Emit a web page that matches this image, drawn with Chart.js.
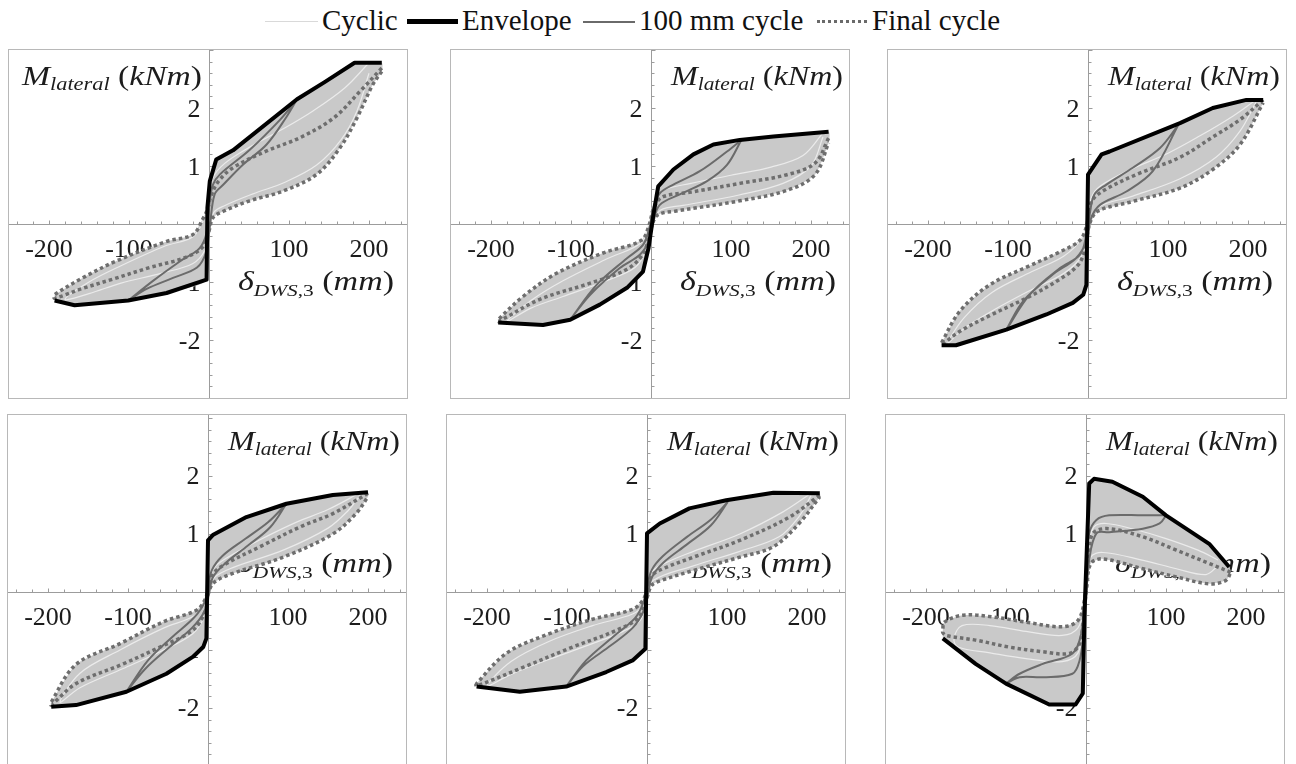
<!DOCTYPE html>
<html>
<head>
<meta charset="utf-8">
<script src="https://cdn.jsdelivr.net/npm/chart.js@4.4.1/dist/chart.umd.min.js"></script>
<style>
  body { margin: 0; width: 1296px; height: 764px; overflow: hidden; background: #fff; position: relative; font-family: "Liberation Serif", serif; }
  .panel { position: absolute; border: 1px solid #b8b8b8; }
  .panel canvas { display: block; }
  .lg { position: absolute; font-size: 29px; line-height: 29px; top: 6px; color: #111; white-space: nowrap; }
  .sw { position: absolute; }
</style>
</head>
<body>

<!-- legende commune -->
<div class="sw" style="left:265px;top:21px;width:53px;height:0;border-top:1.5px solid #d9d9d9"></div>
<div class="lg" style="left:322px">Cyclic</div>
<div class="sw" style="left:407px;top:19px;width:51px;height:5px;background:#000"></div>
<div class="lg" style="left:462px">Envelope</div>
<div class="sw" style="left:583px;top:21px;width:52px;height:0;border-top:2px solid #6a6a6a"></div>
<div class="lg" style="left:639px">100 mm cycle</div>
<div class="sw" style="left:817px;top:20px;width:50px;height:0;border-top:3px dotted #6a6a6a"></div>
<div class="lg" style="left:872px">Final cycle</div>

<div class="panel" style="left:8px;top:49px"><canvas id="c0" width="398" height="348"></canvas></div>
<div class="panel" style="left:450px;top:49px"><canvas id="c1" width="398" height="348"></canvas></div>
<div class="panel" style="left:887px;top:49px"><canvas id="c2" width="398" height="348"></canvas></div>
<div class="panel" style="left:7px;top:414px"><canvas id="c3" width="398" height="351"></canvas></div>
<div class="panel" style="left:446px;top:414px"><canvas id="c4" width="398" height="351"></canvas></div>
<div class="panel" style="left:885px;top:414px"><canvas id="c5" width="398" height="351"></canvas></div>

<script>
// graduations
const xTickLabels = [-200, -100, 100, 200];
const yTickLabels = [-2, -1, 1, 2];

// panneau 1 : [deplacement mm, moment kNm]
const env1 = [[-193,-1.32],[-168,-1.40],[-101,-1.32],[-53,-1.19],[-3,-0.96],[-2,0.28],[1,0.74],[9,1.11],[30,1.27],[110,2.15],[145,2.45],[182,2.78],[216,2.78]];
const up100_1 = [[110,2.15],[89,1.80],[51,1.28],[14,0.86],[5,0.68],[1,0.40],[-3,-0.15],[-12,-0.42],[-37,-0.65],[-70,-0.98],[-101,-1.32]];
const lo100_1 = [[-101,-1.32],[-78,-1.12],[-45,-0.93],[-15,-0.75],[-4,-0.50],[1,-0.05],[7,0.51],[18,0.68],[43,1.03],[72,1.37],[97,1.85],[110,2.15]];
const finUp1 = [[216,2.69],[189,2.29],[156,1.83],[114,1.49],[72,1.26],[30,0.97],[12,0.74],[3,0.50],[-2,0.25],[-8,0.08],[-20,-0.18],[-53,-0.30],[-116,-0.64],[-158,-0.93],[-193,-1.22]];
const finLo1 = [[-193,-1.28],[-160,-1.12],[-120,-0.95],[-74,-0.75],[-30,-0.58],[-8,-0.40],[0,-0.12],[5,0.11],[18,0.22],[51,0.40],[93,0.57],[135,0.86],[164,1.32],[185,1.83],[205,2.41],[216,2.63]];
const cyc1 = [[200,2.78],[170,2.35],[130,1.95],[90,1.62],[50,1.32],[20,1.05],[5,0.80],[0,0.40],[-6,0.10],[-20,-0.22],[-55,-0.38],[-110,-0.72],[-150,-1.0],[-180,-1.30],
              [-150,-1.20],[-110,-1.02],[-60,-0.85],[-20,-0.68],[-5,-0.45],[1,-0.10],[6,0.20],[20,0.32],[55,0.52],[95,0.72],[135,1.02],[165,1.45],[185,1.95],[200,2.60]];

// panneau 2
const env2 = [[-191,-1.70],[-135,-1.74],[-101,-1.65],[-64,-1.39],[-30,-1.10],[-10,-0.82],[-3,-0.41],[3,0.16],[9,0.65],[28,0.94],[53,1.20],[78,1.37],[111,1.45],[153,1.51],[222,1.59]];
const up100_2 = [[113,1.45],[95,1.25],[61,0.91],[28,0.68],[11,0.53],[3,0.28],[-2,-0.07],[-10,-0.36],[-30,-0.59],[-68,-1.05],[-101,-1.65]];
const lo100_2 = [[-101,-1.65],[-76,-1.22],[-39,-0.76],[-14,-0.53],[-3,-0.30],[3,0.05],[11,0.33],[36,0.51],[70,0.74],[95,1.02],[113,1.45]];
const finUp2 = [[222,1.48],[205,1.05],[170,0.85],[111,0.70],[50,0.55],[15,0.47],[4,0.30],[-2,0.0],[-12,-0.28],[-60,-0.50],[-118,-0.85],[-160,-1.25],[-191,-1.65]];
const finLo2 = [[-191,-1.68],[-139,-1.30],[-76,-1.02],[-30,-0.78],[-10,-0.52],[-2,-0.20],[3,0.05],[10,0.17],[30,0.22],[111,0.40],[170,0.58],[205,0.85],[222,1.40]];
const cyc2 = [[215,1.57],[190,1.18],[150,0.98],[100,0.84],[50,0.70],[15,0.58],[4,0.38],[-2,0.05],[-12,-0.32],[-55,-0.60],[-110,-0.98],[-150,-1.32],[-180,-1.68],
              [-150,-1.45],[-110,-1.25],[-60,-1.00],[-20,-0.75],[-5,-0.42],[3,0.02],[12,0.24],[40,0.32],[110,0.50],[165,0.70],[200,1.0],[215,1.50]];

// panneau 3
const env3 = [[-183,-2.09],[-165,-2.09],[-102,-1.82],[-52,-1.56],[-19,-1.36],[-6,-1.22],[-2,-1.05],[0,0.85],[17,1.20],[27,1.25],[115,1.74],[156,2.0],[198,2.14],[219,2.14]];
const up100_3 = [[113,1.71],[90,1.31],[56,0.97],[23,0.68],[8,0.51],[2,0.16],[-2,-0.18],[-10,-0.53],[-35,-0.76],[-73,-1.22],[-102,-1.82]];
const lo100_3 = [[-102,-1.82],[-81,-1.33],[-44,-0.87],[-15,-0.59],[-2,-0.30],[4,0.10],[15,0.33],[48,0.56],[81,0.91],[113,1.71]];
const finUp3 = [[219,2.14],[190,1.80],[156,1.50],[115,1.15],[60,0.85],[20,0.58],[5,0.40],[0,0.10],[-2,-0.05],[-10,-0.28],[-35,-0.48],[-73,-0.72],[-123,-1.05],[-160,-1.50],[-183,-2.05]];
const finLo3 = [[-183,-2.08],[-160,-1.85],[-123,-1.58],[-73,-1.25],[-35,-0.95],[-12,-0.70],[-3,-0.40],[2,0.0],[12,0.22],[56,0.39],[115,0.62],[156,0.94],[190,1.37],[219,2.09]];
const cyc3 = [[210,2.14],[180,1.85],[140,1.52],[100,1.22],[50,0.92],[15,0.65],[4,0.45],[0,0.12],[-8,-0.25],[-30,-0.55],[-70,-0.82],[-120,-1.18],[-155,-1.62],[-175,-2.05],
              [-155,-1.80],[-120,-1.50],[-73,-1.15],[-30,-0.85],[-8,-0.55],[2,-0.05],[12,0.28],[56,0.48],[115,0.78],[160,1.15],[190,1.60],[210,2.10]];

// panneau 4
const env4 = [[-196,-1.98],[-165,-1.95],[-102,-1.72],[-52,-1.41],[-19,-1.12],[-6,-0.95],[-2,-0.80],[0,0.89],[6,0.98],[48,1.29],[98,1.52],[156,1.67],[200,1.72]];
const up100_4 = [[98,1.52],[75,1.20],[45,0.90],[18,0.62],[5,0.38],[0,0.08],[-5,-0.20],[-18,-0.45],[-45,-0.78],[-75,-1.18],[-102,-1.72]];
const lo100_4 = [[-102,-1.72],[-78,-1.32],[-48,-0.95],[-20,-0.62],[-5,-0.35],[1,-0.05],[6,0.25],[22,0.50],[50,0.80],[78,1.12],[98,1.52]];
const finUp4 = [[200,1.70],[156,1.35],[115,1.12],[65,0.78],[23,0.49],[8,0.34],[2,0.14],[-4,-0.14],[-15,-0.32],[-55,-0.51],[-110,-0.89],[-165,-1.25],[-196,-1.90]];
const finLo4 = [[-196,-1.95],[-165,-1.58],[-106,-1.24],[-60,-0.95],[-19,-0.66],[-4,-0.35],[1,0.0],[8,0.17],[31,0.32],[94,0.60],[156,1.0],[185,1.35],[200,1.64]];
const cyc4 = [[190,1.71],[150,1.42],[110,1.20],[65,0.90],[25,0.60],[8,0.42],[1,0.15],[-5,-0.22],[-18,-0.42],[-55,-0.62],[-110,-1.0],[-160,-1.40],[-185,-1.90],
              [-160,-1.65],[-106,-1.32],[-60,-1.03],[-19,-0.72],[-4,-0.40],[1,0.02],[8,0.25],[31,0.42],[94,0.72],[150,1.10],[175,1.40],[190,1.66]];

// panneau 5
const env5 = [[-213,-1.63],[-159,-1.72],[-101,-1.63],[-51,-1.38],[-18,-1.18],[-2,-0.98],[0,1.01],[16,1.18],[53,1.44],[99,1.58],[158,1.71],[216,1.70]];
const up100_5 = [[101,1.55],[80,1.25],[50,0.95],[20,0.62],[6,0.38],[0,0.08],[-5,-0.20],[-15,-0.45],[-43,-0.78],[-76,-1.18],[-101,-1.63]];
const lo100_5 = [[-101,-1.63],[-80,-1.28],[-45,-0.92],[-18,-0.62],[-5,-0.35],[1,-0.05],[6,0.25],[20,0.50],[50,0.82],[80,1.15],[101,1.55]];
const finUp5 = [[216,1.67],[178,1.29],[116,0.89],[58,0.60],[20,0.40],[6,0.28],[0,0.05],[-5,-0.14],[-18,-0.30],[-68,-0.47],[-122,-0.72],[-175,-1.05],[-213,-1.58]];
const finLo5 = [[-213,-1.62],[-155,-1.30],[-93,-0.95],[-38,-0.66],[-10,-0.43],[0,-0.10],[5,0.10],[12,0.17],[58,0.37],[116,0.60],[158,0.78],[190,1.18],[216,1.64]];
const cyc5 = [[205,1.70],[170,1.38],[116,1.0],[58,0.70],[20,0.48],[6,0.34],[0,0.10],[-5,-0.22],[-18,-0.38],[-68,-0.58],[-122,-0.85],[-170,-1.20],[-200,-1.62],
              [-170,-1.42],[-122,-1.16],[-70,-0.90],[-30,-0.68],[-8,-0.48],[1,-0.08],[8,0.20],[58,0.45],[116,0.70],[165,0.95],[190,1.30],[205,1.66]];

// panneau 6
const env6 = [[-179,-0.80],[-138,-1.24],[-100,-1.58],[-46,-1.94],[-13,-1.94],[-4,-1.75],[-2,-0.43],[1,0.72],[4,1.87],[10,1.95],[33,1.90],[71,1.64],[100,1.32],[154,0.83],[179,0.43]];
const up100_6 = [[100,1.32],[71,1.32],[29,1.32],[13,1.24],[4,1.01],[1,0.43],[-2,-0.14],[-6,-0.72],[-17,-1.06],[-54,-1.24],[-83,-1.41],[-100,-1.58]];
const lo100_6 = [[-100,-1.58],[-83,-1.47],[-54,-1.47],[-17,-1.41],[-8,-1.18],[-3,-0.72],[0,-0.14],[4,0.55],[13,1.01],[29,1.03],[71,1.09],[92,1.18],[100,1.32]];
const finUp6 = [[181,0.34],[154,0.49],[113,0.72],[71,0.95],[29,1.09],[10,1.03],[4,0.78],[1,0.32],[-2,-0.14],[-10,-0.49],[-29,-0.60],[-75,-0.52],[-117,-0.43],[-154,-0.40],[-177,-0.52],[-179,-0.66]];
const finLo6 = [[-179,-0.70],[-175,-0.75],[-138,-0.83],[-96,-0.95],[-54,-1.03],[-21,-1.06],[-8,-0.89],[-3,-0.43],[1,0.09],[6,0.49],[21,0.57],[71,0.40],[113,0.26],[154,0.14],[175,0.20],[181,0.34]];
const cyc6 = [[165,0.55],[140,0.72],[100,0.92],[60,1.08],[25,1.18],[10,1.12],[4,0.85],[1,0.35],[-2,-0.20],[-10,-0.62],[-30,-0.75],[-75,-0.68],[-120,-0.58],[-155,-0.58],[-165,-0.80],
              [-160,-0.95],[-120,-1.05],[-75,-1.15],[-30,-1.20],[-10,-1.05],[-3,-0.50],[1,0.10],[6,0.60],[21,0.68],[70,0.55],[113,0.40],[150,0.30],[165,0.45]];

const panels = [
  { env: env1, up100: up100_1, lo100: lo100_1, upFin: finUp1, loFin: finLo1, cyc: cyc1 },
  { env: env2, up100: up100_2, lo100: lo100_2, upFin: finUp2, loFin: finLo2, cyc: cyc2 },
  { env: env3, up100: up100_3, lo100: lo100_3, upFin: finUp3, loFin: finLo3, cyc: cyc3 },
  { env: env4, up100: up100_4, lo100: lo100_4, upFin: finUp4, loFin: finLo4, cyc: cyc4 },
  { env: env5, up100: up100_5, lo100: lo100_5, upFin: finUp5, loFin: finLo5, cyc: cyc5 },
  { env: env6, up100: up100_6, lo100: lo100_6, upFin: finUp6, loFin: finLo6, cyc: cyc6 }
];

const toXY = arr => arr.map(p => ({ x: p[0], y: p[1] }));

// zone grise : enveloppe + branches exterieures du dernier cycle
function shadedArea(p) {
  const back = p.loFin.filter(q => q[0] >= 0).reverse();
  const neg = p.upFin.filter(q => q[0] <= 0);
  return p.env.concat(back, neg);
}

// texte "mathematique" : [texte, taille, decalage vertical, italique]
function drawMath(ctx, parts, x, y, align, targetW) {
  const fontOf = pt => (pt[3] ? 'italic ' : '') + pt[1] + 'px "Liberation Serif"';
  let w = 0;
  parts.forEach(pt => { ctx.font = fontOf(pt); w += ctx.measureText(pt[0]).width; });
  const s = targetW / w;
  ctx.save();
  ctx.translate(align === 'right' ? x - targetW : x, y);
  ctx.scale(s, 1);
  ctx.textAlign = 'left';
  ctx.textBaseline = 'alphabetic';
  let cx = 0;
  parts.forEach(pt => {
    ctx.font = fontOf(pt);
    ctx.fillText(pt[0], cx, pt[2]);
    cx += ctx.measureText(pt[0]).width;
  });
  ctx.restore();
}

const mLabel = [['M', 27, 0, true], ['lateral', 18, 5, true], [' (', 27, 0, false], ['kNm', 27, 0, true], [')', 27, 0, false]];
const dLabel = [['\u03b4', 27, 0, true], ['DWS', 17, 6, true], [',3', 17, 6, false], [' (', 27, 0, false], ['mm', 27, 0, true], [')', 27, 0, false]];

// axes au centre, graduations et titres, dessines sous les courbes
const axesPlugin = {
  id: 'centerAxes',
  beforeDraw(chart, args, opts) {
    const { ctx, chartArea: a, scales: { x, y } } = chart;
    const x0 = Math.round(x.getPixelForValue(0)) + 0.5;
    const y0 = Math.round(y.getPixelForValue(0)) + 0.5;
    ctx.save();
    ctx.fillStyle = '#1c1c1c';
    ctx.font = '26px "Liberation Serif"';
    ctx.textBaseline = 'alphabetic';
    ctx.textAlign = 'center';
    xTickLabels.forEach(v => ctx.fillText(String(v), x.getPixelForValue(v), y0 + 32));
    ctx.textAlign = 'right';
    yTickLabels.forEach(v => ctx.fillText(String(v), x0 - 9, y.getPixelForValue(v) + 8.5));

    if (opts.mLeft) drawMath(ctx, mLabel, a.left + 13, a.top + 35, 'left', 180);
    else drawMath(ctx, mLabel, a.right - 6, a.top + 35, 'right', 172);
    drawMath(ctx, dLabel, a.right - 13, opts.row === 0 ? y0 + 65 : y0 - 21, 'right', 156);

    ctx.strokeStyle = '#9c9c9c';
    ctx.lineWidth = 1;
    ctx.beginPath();
    ctx.moveTo(a.left, y0); ctx.lineTo(a.right, y0);
    ctx.moveTo(x0, a.top); ctx.lineTo(x0, a.bottom);
    for (let v = -240; v <= 240; v += 20) {
      const px = Math.round(x.getPixelForValue(v)) + 0.5;
      ctx.moveTo(px, y0); ctx.lineTo(px, y0 - (v % 100 === 0 ? 4 : 3));
    }
    for (let k = -15; k <= 15; k++) {
      const py = Math.round(y.getPixelForValue(k / 5)) + 0.5;
      ctx.moveTo(x0, py); ctx.lineTo(x0 + (k % 5 === 0 ? 4 : 3), py);
    }
    ctx.stroke();
    ctx.restore();
  }
};

panels.forEach((p, i) => {
  const row = i < 3 ? 0 : 1;
  new Chart(document.getElementById('c' + i), {
    type: 'scatter',
    data: {
      datasets: [
        { data: toXY(p.env), showLine: true, borderColor: '#000', borderWidth: 4, borderJoinStyle: 'round', tension: 0, pointRadius: 0 },
        { data: toXY(p.up100.concat(p.lo100)), showLine: true, borderColor: '#6b6b6b', borderWidth: 2, tension: 0.35, pointRadius: 0 },
        { data: toXY(p.upFin.concat(p.loFin)), showLine: true, borderColor: '#6e6e6e', borderWidth: 3.5, borderDash: [3.5, 3], tension: 0.35, pointRadius: 0 },
        { data: toXY(p.cyc), showLine: true, borderColor: '#ebebeb', borderWidth: 1.2, tension: 0.35, pointRadius: 0 },
        { data: toXY(shadedArea(p)), showLine: true, borderWidth: 0, borderColor: 'rgba(0,0,0,0)', backgroundColor: '#c9c9c9', fill: 'shape', tension: 0.2, pointRadius: 0 }
      ]
    },
    options: {
      responsive: false,
      animation: false,
      devicePixelRatio: 1,
      layout: { padding: 0 },
      events: [],
      plugins: {
        legend: { display: false },
        tooltip: { enabled: false },
        centerAxes: { row: row, mLeft: i === 0 }
      },
      scales: {
        x: { type: 'linear', min: -250, max: 247.5, display: false },
        y: { type: 'linear', min: -3, max: row === 0 ? 3 : 3.05, display: false }
      }
    },
    plugins: [axesPlugin]
  });
});
</script>
</body>
</html>
